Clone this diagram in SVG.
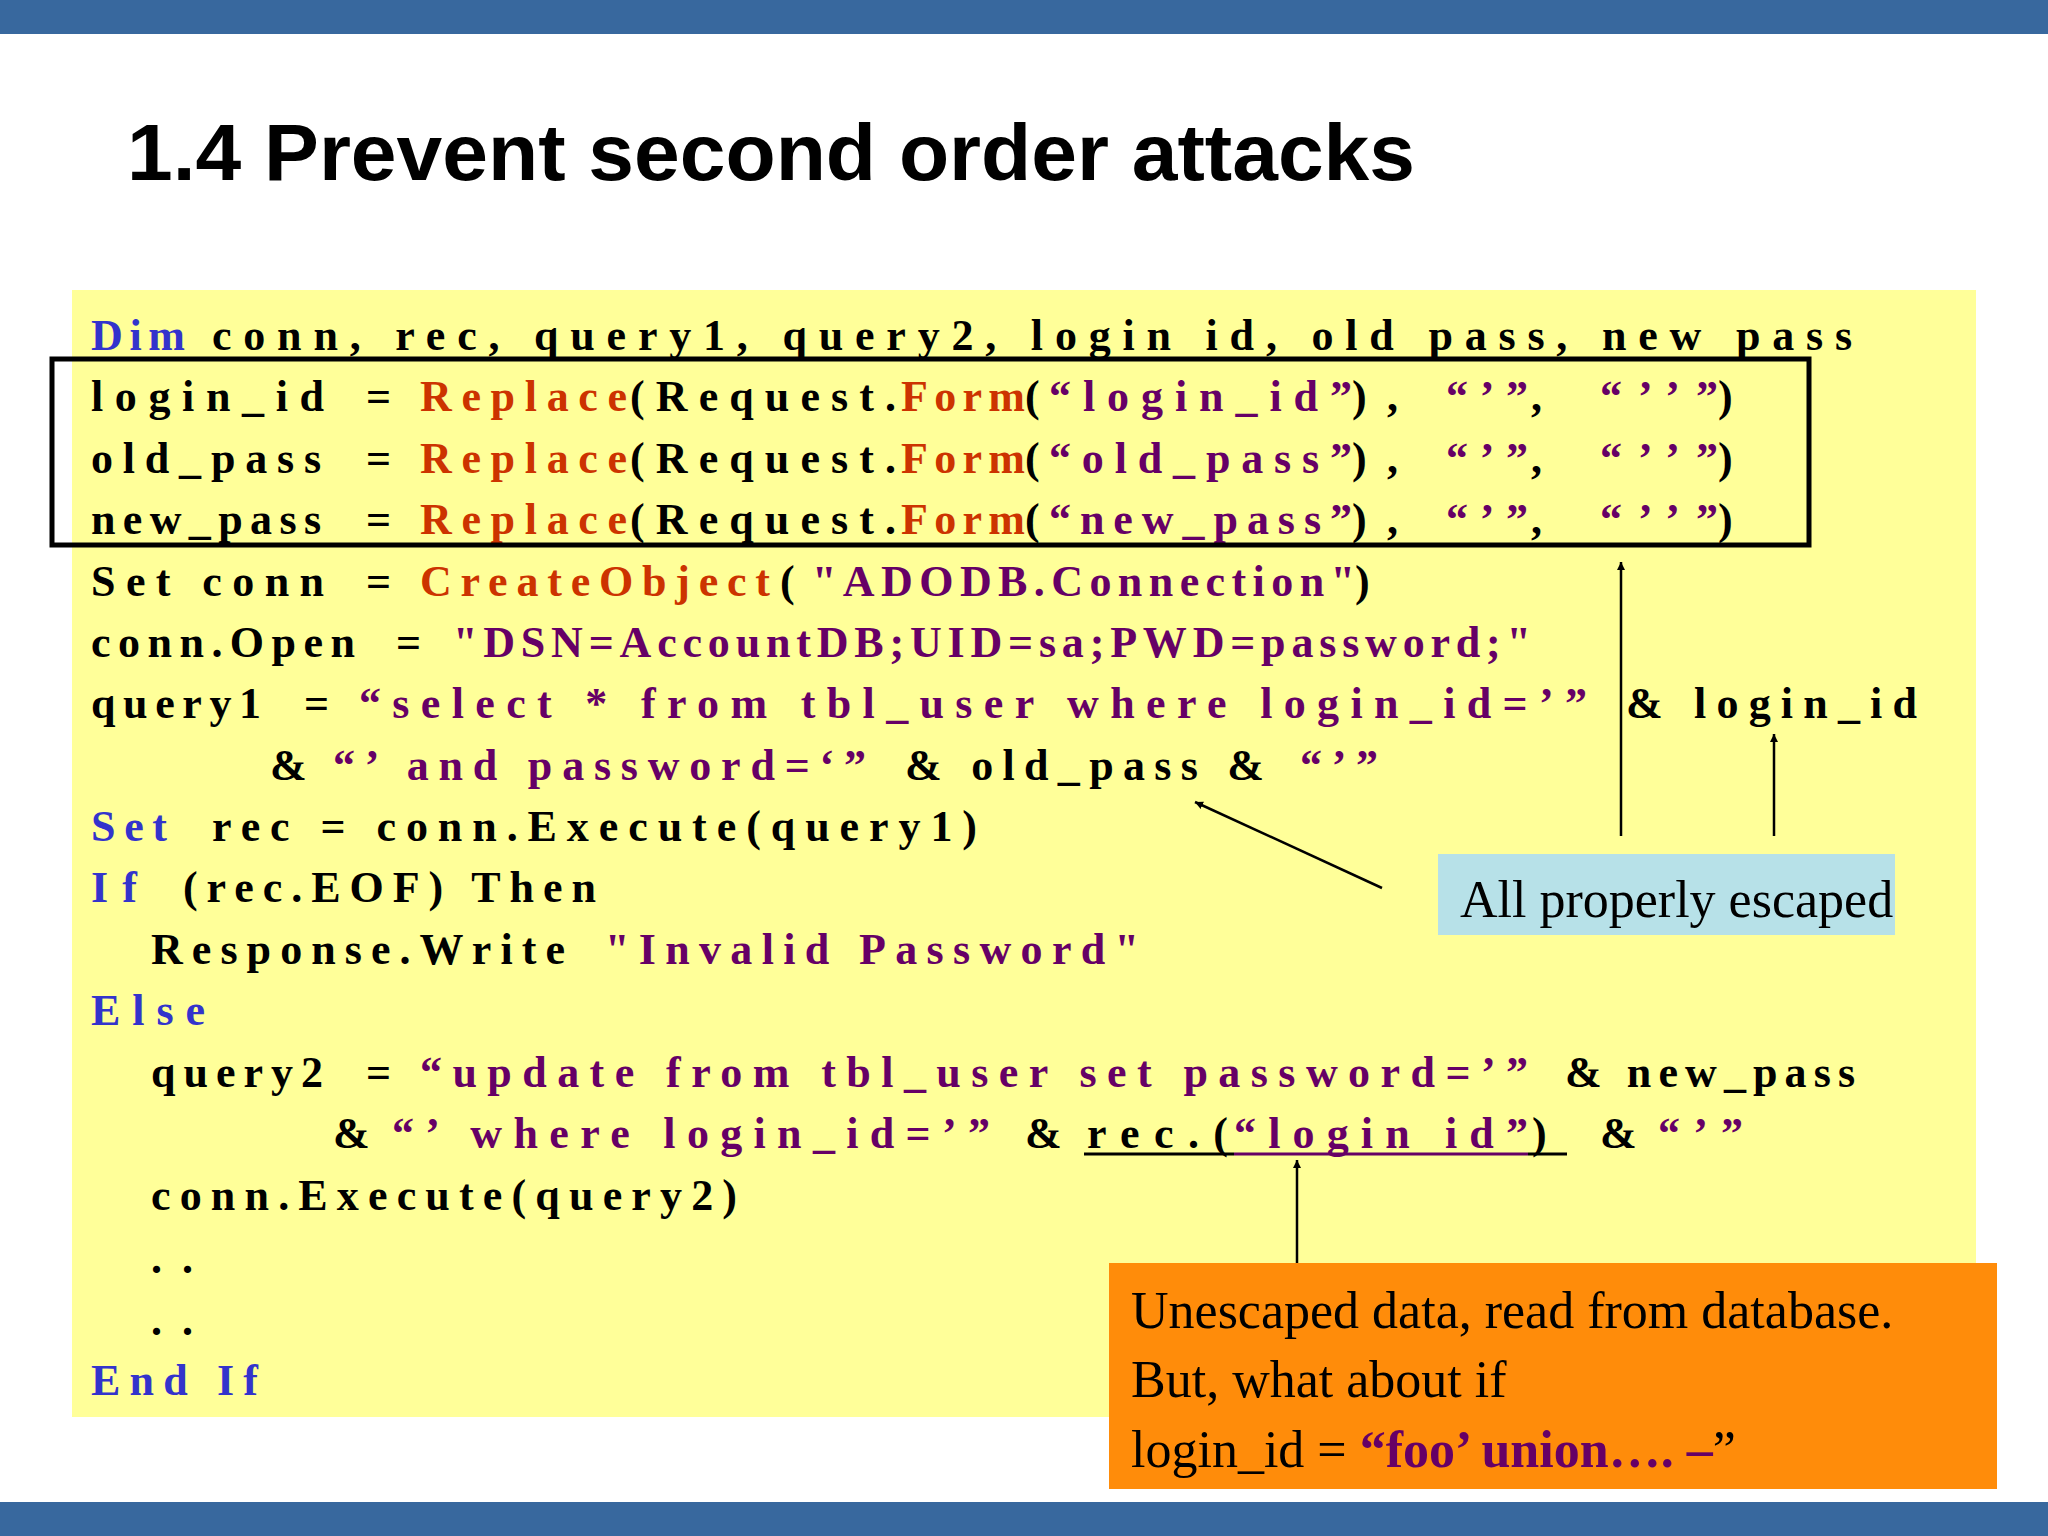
<svg xmlns="http://www.w3.org/2000/svg" width="2048" height="1536" viewBox="0 0 2048 1536">
<defs>
<style>
.c{font-family:"Liberation Serif",serif;font-weight:bold;font-size:44px}
.k{fill:#000}.b{fill:#3333CC}.r{fill:#CC3300}.p{fill:#660066}
.cap{font-family:"Liberation Serif",serif;font-size:52px;fill:#000}
</style>
<marker id="ah" viewBox="0 0 10 10" refX="10" refY="5" markerWidth="8" markerHeight="10" orient="auto" markerUnits="userSpaceOnUse"><path d="M0,0 L10,5 L0,10 z" fill="#000"/></marker>
</defs>
<rect width="2048" height="1536" fill="#fff"/>
<rect x="0" y="0" width="2048" height="34" fill="#38689E"/>
<rect x="0" y="1502" width="2048" height="34" fill="#38689E"/>
<text x="127" y="180" font-family="Liberation Sans, sans-serif" font-weight="bold" font-size="80" textLength="1288" lengthAdjust="spacingAndGlyphs">1.4 Prevent second order attacks</text>
<rect x="72" y="290" width="1904" height="1127" fill="#FFFF99"/>
<g id="code" class="c">
<text y="350"><tspan class="b" x="91" textLength="94">Dim</tspan></text>
<text y="350"><tspan class="k" x="212" textLength="1640">conn, rec, query1, query2, login id, old pass, new pass</tspan></text>
<g id="l1">
<text y="411" class="k" x="91" textLength="233">login_id</text>
<text y="411" class="k" x="366">=</text>
<text y="411" class="r" x="420" textLength="207">Replace</text>
<text y="411" class="k" x="630" textLength="266">(Request.</text>
<text y="411" class="r" x="901" textLength="124">Form</text>
<text y="411" class="k" x="1025">(</text>
<text y="411" class="p" x="1049" textLength="303">“login_id”</text>
<text y="411" class="k" x="1352" textLength="46">),</text>
<text y="411" class="p" x="1446" textLength="82">“’”</text>
<text y="411" class="k" x="1531">,</text>
<text y="411" class="p" x="1600" textLength="118">“’’”</text>
<text y="411" class="k" x="1718">)</text>
</g>
<g id="l2">
<text y="473" class="k" x="91" textLength="230">old_pass</text>
<text y="473" class="k" x="366">=</text>
<text y="473" class="r" x="420" textLength="207">Replace</text>
<text y="473" class="k" x="630" textLength="266">(Request.</text>
<text y="473" class="r" x="901" textLength="124">Form</text>
<text y="473" class="k" x="1025">(</text>
<text y="473" class="p" x="1049" textLength="303">“old_pass”</text>
<text y="473" class="k" x="1352" textLength="46">),</text>
<text y="473" class="p" x="1446" textLength="82">“’”</text>
<text y="473" class="k" x="1531">,</text>
<text y="473" class="p" x="1600" textLength="118">“’’”</text>
<text y="473" class="k" x="1718">)</text>
</g>
<g id="l3">
<text y="534" class="k" x="91" textLength="230">new_pass</text>
<text y="534" class="k" x="366">=</text>
<text y="534" class="r" x="420" textLength="207">Replace</text>
<text y="534" class="k" x="630" textLength="266">(Request.</text>
<text y="534" class="r" x="901" textLength="124">Form</text>
<text y="534" class="k" x="1025">(</text>
<text y="534" class="p" x="1049" textLength="303">“new_pass”</text>
<text y="534" class="k" x="1352" textLength="46">),</text>
<text y="534" class="p" x="1446" textLength="82">“’”</text>
<text y="534" class="k" x="1531">,</text>
<text y="534" class="p" x="1600" textLength="118">“’’”</text>
<text y="534" class="k" x="1718">)</text>
</g>
<text y="596" class="k" x="91" textLength="233">Set  conn</text>
<text y="596" class="k" x="366">=</text>
<text y="596" class="r" x="420" textLength="350">CreateObject</text>
<text y="596" class="k" x="780">(</text>
<text y="596" class="p" x="812" textLength="543">"ADODB.Connection"</text>
<text y="596" class="k" x="1355">)</text>
<text y="657" class="k" x="91" textLength="264">conn.Open</text>
<text y="657" class="k" x="396">=</text>
<text y="657" class="p" x="453" textLength="1078">"DSN=AccountDB;UID=sa;PWD=password;"</text>
<text y="718" class="k" x="91" textLength="170">query1</text>
<text y="718" class="k" x="304">=</text>
<text y="718" class="p" x="359" textLength="1228">“select  * from tbl_user  where  login_id=’”</text>
<text y="718" class="k" x="1626" textLength="291">&amp; login_id</text>
<text y="780" class="k" x="270">&amp;</text>
<text y="780" class="p" x="333" textLength="533">“’  and  password=‘”</text>
<text y="780" class="k" x="905" textLength="359">&amp; old_pass  &amp;</text>
<text y="780" class="p" x="1300" textLength="78">“’”</text>
<text y="841" class="b" x="91" textLength="76">Set</text>
<text y="841" class="k" x="212" textLength="765">rec  = conn.Execute(query1)</text>
<text y="902" class="b" x="91" textLength="46">If</text>
<text y="902" class="k" x="183" textLength="413">(rec.EOF)  Then</text>
<text y="964" class="k" x="151" textLength="414">Response.Write</text>
<text y="964" class="p" x="605" textLength="534">"Invalid  Password"</text>
<text y="1025" class="b" x="91" textLength="114">Else</text>
<text y="1087" class="k" x="151" textLength="172">query2</text>
<text y="1087" class="k" x="366">=</text>
<text y="1087" class="p" x="420" textLength="1108">“update  from tbl_user  set  password=’”</text>
<text y="1087" class="k" x="1565" textLength="290">&amp; new_pass</text>
<text y="1148" class="k" x="333">&amp;</text>
<text y="1148" class="p" x="392" textLength="598">“’  where  login_id=’”</text>
<text y="1148" class="k" x="1025">&amp;</text>
<text y="1148" class="k" x="1087" textLength="141">rec.(</text>
<text y="1148" class="p" x="1234" textLength="294">“login id”</text>
<text y="1148" class="k" x="1532">)</text>
<text y="1148" class="k" x="1600">&amp;</text>
<text y="1148" class="p" x="1658" textLength="85">“’”</text>
<line x1="1084" y1="1154" x2="1234" y2="1154" stroke="#000" stroke-width="3"/>
<line x1="1234" y1="1154" x2="1528" y2="1154" stroke="#660066" stroke-width="3"/>
<line x1="1528" y1="1154" x2="1567" y2="1154" stroke="#000" stroke-width="3"/>
<text y="1210" class="k" x="151" textLength="586">conn.Execute(query2)</text>
<text y="1273" class="k" x="151" textLength="42">..</text>
<text y="1335" class="k" x="151" textLength="42">..</text>
<text y="1395" class="b" x="91" textLength="167">End  If</text>
</g>
<g id="highlight"><rect x="52" y="359" width="1757" height="186" fill="none" stroke="#000" stroke-width="5"/></g>
<g id="connectors" stroke="#000" stroke-width="2.5" fill="none">
<line x1="1621" y1="836" x2="1621" y2="562" marker-end="url(#ah)"/>
<line x1="1774" y1="836" x2="1774" y2="734" marker-end="url(#ah)"/>
<line x1="1382" y1="888" x2="1195" y2="802" marker-end="url(#ah)"/>
<line x1="1297" y1="1280" x2="1297" y2="1160" marker-end="url(#ah)"/>
</g>
<g id="escaped">
<rect x="1438" y="854" width="457" height="81" fill="#B7E1E8"/>
<text class="cap" x="1460" y="917" font-size="50">All properly escaped</text>
</g>
<g id="unescaped">
<rect x="1109" y="1263" width="888" height="226" fill="#FF8C0A"/>
<text class="cap" x="1131" y="1328">Unescaped data, read from database.</text>
<text class="cap" x="1131" y="1397">But, what about if</text>
<text class="cap" x="1131" y="1467">login_id = <tspan fill="#660066" font-weight="bold">“foo’ union…. –</tspan>”</text>
</g>
</svg>
